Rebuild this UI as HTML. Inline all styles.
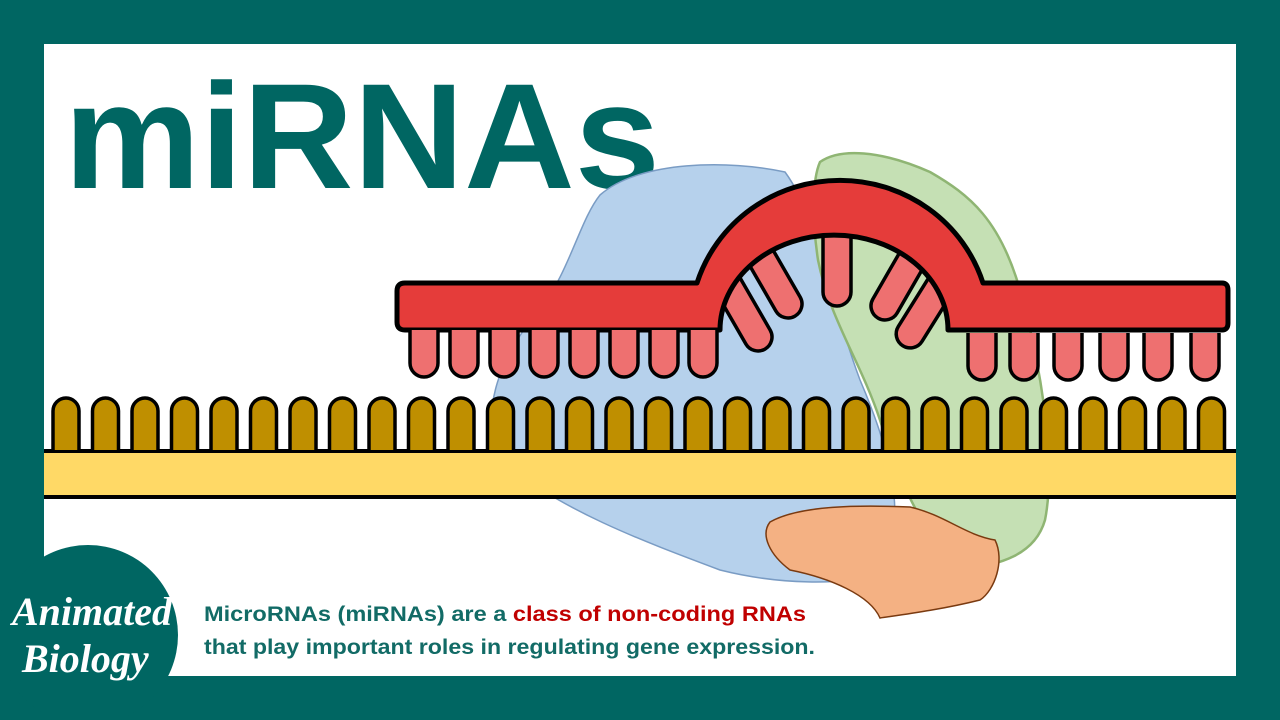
<!DOCTYPE html>
<html><head><meta charset="utf-8"><style>
html,body{margin:0;padding:0;background:#006662;}
svg{display:block}
</style></head><body>
<svg width="1280" height="720" viewBox="0 0 1280 720" xmlns="http://www.w3.org/2000/svg">
<defs>
<path id="g" d="M-13,52 V13 A13,13 0 0 1 13,13 V52" fill="#bf8f00" stroke="#000" stroke-width="3.5"/>
<path id="p" d="M-14,0 V33 A14,14 0 0 0 14,33 V0" fill="#ee7070" stroke="#000" stroke-width="3.5"/>
<path id="q" d="M-14,0 V60 A14,14 0 0 0 14,60 V0" fill="#ee7070" stroke="#000" stroke-width="3.5"/>
</defs>
<rect width="1280" height="720" fill="#006662"/>
<rect x="44" y="44" width="1192" height="632" fill="#fff"/>
<text x="64" y="188" font-family="Liberation Sans, sans-serif" font-weight="bold" font-size="150" fill="#006662" textLength="596" lengthAdjust="spacingAndGlyphs">miRNAs</text>
<path d="M600,195 C640,160 730,160 785,172 C820,220 830,300 860,380 C890,450 910,520 880,575 C840,585 780,585 720,570 C640,540 560,510 500,460 C480,420 495,360 540,310 C570,270 580,220 600,195Z" fill="#b6d1ec" stroke="#7a9cc4" stroke-width="1.5"/>
<path d="M820,162 C840,148 880,150 930,172 C970,195 1000,220 1020,290 C1045,380 1055,470 1045,520 C1035,555 1000,565 960,570 C930,540 905,500 880,420 C860,360 830,320 818,260 C812,220 812,180 820,162Z" fill="#c5e0b4" stroke="#8fb573" stroke-width="2.5"/>
<g>
<g transform="translate(728,285) rotate(-30)"><use href="#q"/></g>
<g transform="translate(758,252) rotate(-30)"><use href="#q"/></g>
<g transform="translate(837,232)"><use href="#q"/></g>
<g transform="translate(915,254) rotate(30)"><use href="#q"/></g>
<g transform="translate(942,283) rotate(32)"><use href="#q"/></g>
</g>
<path d="M405,283 H697 A150 147 0 0 1 983 283 H1222 Q1228 283 1228 290 V323 Q1228 330 1222 330 H948 A114 95 0 0 0 720 330 H405 Q397 330 397 322 V291 Q397 283 405 283Z" fill="#e53c3a" stroke="#000" stroke-width="5" stroke-linejoin="round"/>
<g>
<use href="#p" x="424" y="330"/><use href="#p" x="464" y="330"/><use href="#p" x="504" y="330"/><use href="#p" x="544" y="330"/><use href="#p" x="584" y="330"/><use href="#p" x="624" y="330"/><use href="#p" x="664" y="330"/><use href="#p" x="703" y="330"/>
<use href="#p" x="982" y="333"/><use href="#p" x="1024" y="333"/><use href="#p" x="1068" y="333"/><use href="#p" x="1114" y="333"/><use href="#p" x="1158" y="333"/><use href="#p" x="1205" y="333"/>
</g>
<path d="M770,522 C800,505 860,505 910,507 C945,515 965,535 995,540 C1005,560 995,590 980,600 C940,610 900,615 880,618 C870,595 830,578 790,570 C770,555 760,535 770,522Z" fill="#f4b183" stroke="#7a3a10" stroke-width="1.5"/>
<rect x="44" y="451" width="1192" height="47" fill="#ffd966"/>
<line x1="44" y1="451" x2="1236" y2="451" stroke="#000" stroke-width="4"/>
<line x1="44" y1="497" x2="1236" y2="497" stroke="#000" stroke-width="4"/>
<g>
<use href="#g" x="66" y="398"/><use href="#g" x="105.5" y="398"/><use href="#g" x="145" y="398"/><use href="#g" x="184.5" y="398"/><use href="#g" x="224" y="398"/><use href="#g" x="263.5" y="398"/><use href="#g" x="303" y="398"/><use href="#g" x="342.5" y="398"/><use href="#g" x="382" y="398"/><use href="#g" x="421.5" y="398"/><use href="#g" x="461" y="398"/><use href="#g" x="500.5" y="398"/><use href="#g" x="540" y="398"/><use href="#g" x="579.5" y="398"/><use href="#g" x="619" y="398"/><use href="#g" x="658.5" y="398"/><use href="#g" x="698" y="398"/><use href="#g" x="737.5" y="398"/><use href="#g" x="777" y="398"/><use href="#g" x="816.5" y="398"/><use href="#g" x="856" y="398"/><use href="#g" x="895.5" y="398"/><use href="#g" x="935" y="398"/><use href="#g" x="974.5" y="398"/><use href="#g" x="1014" y="398"/><use href="#g" x="1053.5" y="398"/><use href="#g" x="1093" y="398"/><use href="#g" x="1132.5" y="398"/><use href="#g" x="1172" y="398"/><use href="#g" x="1211.5" y="398"/>
</g>
<circle cx="88" cy="635" r="90" fill="#006662"/>
<text x="12" y="625" font-family="Liberation Serif, serif" font-style="italic" font-weight="bold" font-size="40" fill="#fff">Animated</text>
<text x="22" y="672" font-family="Liberation Serif, serif" font-style="italic" font-weight="bold" font-size="40" fill="#fff">Biology</text>
<text x="204" y="621" font-family="Liberation Sans, sans-serif" font-weight="bold" font-size="21" fill="#126b66" textLength="602" lengthAdjust="spacingAndGlyphs">MicroRNAs (miRNAs) are a <tspan fill="#c00000">class of non-coding RNAs</tspan></text>
<text x="204" y="654" font-family="Liberation Sans, sans-serif" font-weight="bold" font-size="21" fill="#126b66" textLength="611" lengthAdjust="spacingAndGlyphs">that play important roles in regulating gene expression.</text>
</svg>
</body></html>
